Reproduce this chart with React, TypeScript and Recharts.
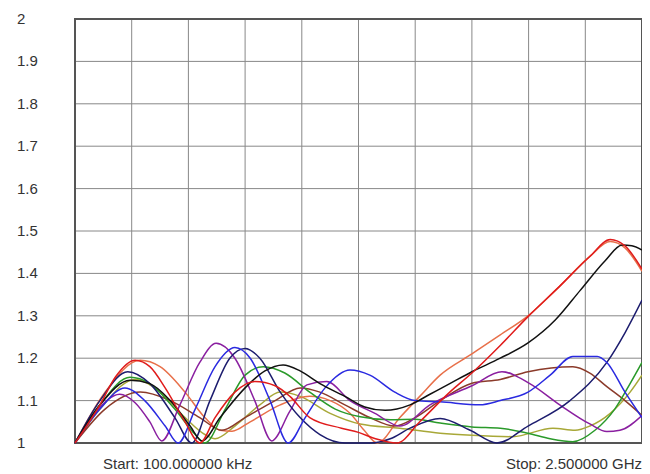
import { LineChart, Line, XAxis, YAxis, CartesianGrid, ReferenceArea } from 'recharts'

// x is percent of the sweep (start .. stop), y is VSWR
const xTicks = [0, 10, 20, 30, 40, 50, 60, 70, 80, 90, 100]
const yTicks = [1, 1.1, 1.2, 1.3, 1.4, 1.5, 1.6, 1.7, 1.8, 1.9, 2]
const startLabel = 'Start: 100.000000 kHz'
const stopLabel = 'Stop: 2.500000 GHz'

const red: [number, number][] = [
  [0, 1.0], [4.4, 1.09], [7.1, 1.155], [10.6, 1.195], [13.2, 1.18], [15.9, 1.13], [19.4, 1.05],
  [22.0, 1.0], [24.7, 1.06], [28.2, 1.12], [31.7, 1.145], [35.3, 1.135], [37.9, 1.11], [41.4, 1.06],
  [47.0, 1.035], [50.0, 1.025], [53.0, 1.01], [56.8, 1.0], [60.8, 1.05], [66.1, 1.12], [70.0, 1.165],
  [75.0, 1.23], [79.9, 1.298], [85.5, 1.37], [90.8, 1.44], [94.4, 1.48], [97.0, 1.465], [100, 1.41],
]
const orange: [number, number][] = [
  [0, 1.0], [5.3, 1.12], [11.5, 1.195], [15.0, 1.18], [19.4, 1.12], [22.9, 1.06], [25.6, 1.03],
  [27.7, 1.028], [30.9, 1.05], [36.2, 1.09], [41.4, 1.11], [45.0, 1.1], [48.5, 1.07], [51.0, 1.03],
  [53.3, 1.0], [57.3, 1.06], [60.8, 1.11], [64.4, 1.16], [70.0, 1.21], [75.0, 1.255], [79.9, 1.3],
  [85.5, 1.37], [90.8, 1.44], [94.4, 1.475], [97.0, 1.46], [100, 1.405],
]
const black: [number, number][] = [
  [0, 1.0], [4.4, 1.09], [9.7, 1.148], [13.2, 1.14], [16.8, 1.1], [20.3, 1.04], [22.4, 1.005],
  [25.6, 1.06], [30.0, 1.13], [33.5, 1.17], [36.7, 1.184], [39.7, 1.17], [43.2, 1.14], [47.6, 1.11],
  [51.1, 1.085], [54.7, 1.077], [59.1, 1.09], [62.6, 1.115], [66.1, 1.14], [70.0, 1.168], [75.0, 1.2],
  [79.9, 1.236], [84.7, 1.29], [89.1, 1.36], [93.5, 1.43], [96.5, 1.467], [98.2, 1.465], [100, 1.455],
]
const blue: [number, number][] = [
  [0, 1.0], [4.4, 1.08], [8.8, 1.13], [12.3, 1.1], [15.9, 1.04], [18.2, 1.0], [21.2, 1.08],
  [24.7, 1.18], [28.2, 1.225], [30.9, 1.2], [34.4, 1.1], [37.6, 1.0], [40.6, 1.06], [44.1, 1.13],
  [48.5, 1.172], [52.0, 1.16], [56.4, 1.12], [60.0, 1.1], [64.4, 1.097], [71.4, 1.09], [75.0, 1.1],
  [79.9, 1.12], [83.8, 1.16], [87.8, 1.204], [92.1, 1.204], [93.8, 1.19], [97.0, 1.12], [100, 1.06],
]
const navy: [number, number][] = [
  [0, 1.0], [4.4, 1.1], [9.3, 1.168], [13.2, 1.14], [17.6, 1.06], [20.6, 1.0], [23.8, 1.1],
  [27.3, 1.2], [30.0, 1.223], [32.6, 1.2], [36.2, 1.12], [39.7, 1.06], [43.2, 1.02], [47.6, 1.0],
  [52.0, 1.0], [55.6, 1.01], [59.1, 1.035], [64.4, 1.058], [69.7, 1.03], [74.4, 1.0], [79.9, 1.04],
  [87.3, 1.1], [93.8, 1.19], [97.0, 1.26], [100, 1.337],
]
const purple: [number, number][] = [
  [0, 1.0], [3.5, 1.07], [7.9, 1.115], [10.6, 1.095], [13.2, 1.05], [15.3, 1.005], [18.5, 1.09],
  [22.0, 1.19], [24.9, 1.235], [28.2, 1.2], [31.7, 1.1], [34.7, 1.005], [37.9, 1.075], [40.9, 1.137],
  [44.4, 1.145], [48.5, 1.1], [52.9, 1.07], [57.3, 1.04], [62.6, 1.09], [70.0, 1.135], [75.3, 1.168],
  [80.2, 1.14], [85.5, 1.09], [90.8, 1.045], [93.8, 1.027], [96.1, 1.03], [100, 1.065],
]
const green: [number, number][] = [
  [0, 1.0], [4.4, 1.09], [9.7, 1.155], [13.2, 1.14], [17.6, 1.08], [21.2, 1.02], [22.9, 1.0],
  [26.5, 1.08], [30.0, 1.16], [33.2, 1.18], [37.0, 1.165], [41.4, 1.12], [45.9, 1.08], [50.3, 1.062],
  [55.6, 1.055], [60.0, 1.056], [64.4, 1.047], [70.0, 1.038], [75.0, 1.035], [79.9, 1.023],
  [83.8, 1.01], [87.8, 1.003], [91.7, 1.03], [95.2, 1.08], [97.9, 1.14], [100, 1.19],
]
const olive: [number, number][] = [
  [0, 1.0], [4.4, 1.08], [10.6, 1.15], [15.0, 1.12], [19.4, 1.06], [22.9, 1.02], [24.7, 1.01],
  [28.2, 1.04], [32.6, 1.09], [36.2, 1.12], [39.7, 1.11], [45.0, 1.07], [50.3, 1.045], [57.3, 1.035],
  [64.4, 1.023], [70.0, 1.018], [77.2, 1.015], [84.3, 1.035], [88.2, 1.03], [90.8, 1.04],
  [94.4, 1.07], [97.9, 1.12], [100, 1.16],
]
const brown: [number, number][] = [
  [0, 1.0], [5.3, 1.08], [11.5, 1.12], [16.8, 1.1], [22.0, 1.06], [25.9, 1.03], [30.0, 1.06],
  [35.3, 1.1], [39.7, 1.13], [43.2, 1.12], [47.6, 1.09], [52.0, 1.06], [56.4, 1.04], [60.0, 1.06],
  [64.4, 1.1], [70.0, 1.141], [75.0, 1.15], [79.9, 1.168], [87.8, 1.18], [90.8, 1.165], [93.8, 1.133],
  [97.0, 1.1], [100, 1.065],
]

const series = [
  { key: 'olive', color: '#a8a838', points: olive },
  { key: 'orange', color: '#e8704a', points: orange },
  { key: 'brown', color: '#8b3a2a', points: brown },
  { key: 'green', color: '#2a9a2a', points: green },
  { key: 'purple', color: '#8a1fa0', points: purple },
  { key: 'navy', color: '#1c1c6e', points: navy },
  { key: 'blue', color: '#2a2ae0', points: blue },
  { key: 'black', color: '#111111', points: black },
  { key: 'red', color: '#e01b1b', points: red },
]

const font = '"Liberation Sans", Arial, sans-serif'

function YTick({ y, payload }: any) {
  const v = Number(Number(payload.value).toFixed(1))
  return (
    <text x={9} y={y} dy={5} textAnchor="start" fontSize={15} fontFamily={font} fill="#333">
      {String(v)}
    </text>
  )
}

function XTick({ x, y, payload }: any) {
  if (payload.value === 0) {
    return (
      <text x={x + 28} y={y + 18} textAnchor="start" fontSize={15} fontFamily={font} fill="#333">
        {startLabel}
      </text>
    )
  }
  if (payload.value === 100) {
    return (
      <text x={x} y={y + 18} textAnchor="end" fontSize={15} fontFamily={font} fill="#333">
        {stopLabel}
      </text>
    )
  }
  return null
}

export default function App() {
  return (
    <LineChart width={642} height={466} margin={{ top: 11, right: 8, bottom: 0, left: 0 }}>
      <CartesianGrid stroke="#888" strokeWidth={1} />
      <XAxis
        dataKey="x"
        type="number"
        domain={[0, 100]}
        ticks={xTicks}
        tick={<XTick />}
        tickLine={false}
        axisLine={false}
        height={31}
        interval={0}
      />
      <YAxis
        type="number"
        domain={[1, 2]}
        ticks={yTicks}
        tick={<YTick />}
        tickLine={false}
        axisLine={false}
        width={67}
        interval={0}
      />
      {series.map((s) => (
        <Line
          key={s.key}
          data={s.points.map(([x, y]) => ({ x, y }))}
          dataKey="y"
          type="monotone"
          stroke={s.color}
          strokeWidth={1.5}
          dot={false}
          isAnimationActive={false}
        />
      ))}
      <ReferenceArea x1={0} x2={100} y1={1} y2={2} fill="none" stroke="#555" strokeWidth={2} ifOverflow="visible" />
    </LineChart>
  )
}
